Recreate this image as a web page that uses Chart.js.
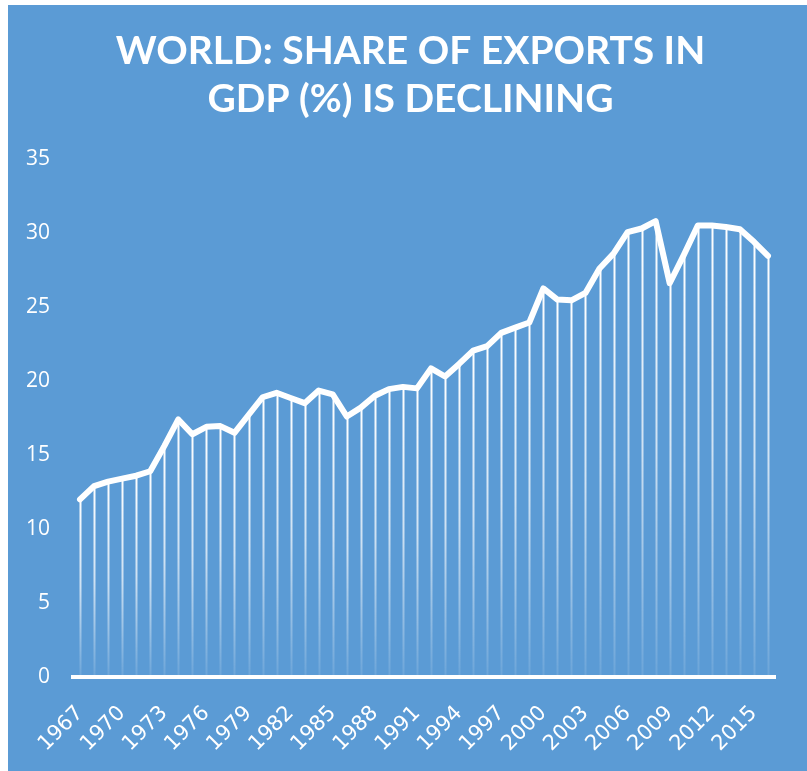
<!DOCTYPE html>
<html>
<head>
<meta charset="utf-8">
<script src="https://cdn.jsdelivr.net/npm/chart.js@4.4.0/dist/chart.umd.min.js"></script>
<style>
  html, body { margin: 0; padding: 0; background: #ffffff; }
  #wrap {
    position: absolute;
    left: 8px;
    top: 5px;
    width: 799px;
    height: 766px;
    background: #5b9bd5;
  }
</style>
</head>
<body>
<div id="wrap"><canvas id="exportsChart"></canvas></div>
<script>
// Exports of goods and services, % of world GDP
const years = [
  1967, 1968, 1969, 1970, 1971, 1972, 1973, 1974, 1975, 1976,
  1977, 1978, 1979, 1980, 1981, 1982, 1983, 1984, 1985, 1986,
  1987, 1988, 1989, 1990, 1991, 1992, 1993, 1994, 1995, 1996,
  1997, 1998, 1999, 2000, 2001, 2002, 2003, 2004, 2005, 2006,
  2007, 2008, 2009, 2010, 2011, 2012, 2013, 2014, 2015, 2016
];
const exportShare = [
  12.0, 12.9, 13.2, 13.4, 13.6, 13.9, 15.6, 17.4, 16.4, 16.9,
  16.95, 16.5, 17.7, 18.9, 19.2, 18.85, 18.5, 19.35, 19.1, 17.6,
  18.2, 19.0, 19.45, 19.6, 19.5, 20.85, 20.3, 21.15, 22.05, 22.35,
  23.25, 23.6, 23.95, 26.25, 25.5, 25.45, 25.95, 27.6, 28.6, 30.05,
  30.3, 30.8, 26.6, 28.5, 30.5, 30.5, 30.4, 30.25, 29.4, 28.45
];
const yTicks = [0, 5, 10, 15, 20, 25, 30, 35];
const titleLines = ['WORLD: SHARE OF EXPORTS IN', 'GDP (%) IS DECLINING'];

// vertical drop lines from every point down to the axis, fading out
const dropLines = {
  id: 'dropLines',
  beforeDatasetsDraw(chart) {
    const ctx = chart.ctx;
    const meta = chart.getDatasetMeta(0);
    const base = chart.scales.y.getPixelForValue(0);
    ctx.save();
    ctx.lineWidth = 2;
    meta.data.forEach(pt => {
      const g = ctx.createLinearGradient(0, pt.y, 0, base);
      g.addColorStop(0, 'rgba(255,255,255,1)');
      g.addColorStop(0.5, 'rgba(255,255,255,0.7)');
      g.addColorStop(1, 'rgba(255,255,255,0.1)');
      ctx.strokeStyle = g;
      ctx.beginPath();
      ctx.moveTo(Math.round(pt.x) + 0.5, pt.y);
      ctx.lineTo(Math.round(pt.x) + 0.5, base);
      ctx.stroke();
    });
    ctx.restore();
  }
};

new Chart(document.getElementById('exportsChart'), {
  type: 'line',
  data: {
    labels: years,
    datasets: [{
      data: exportShare,
      borderColor: '#ffffff',
      borderWidth: 6,
      borderJoinStyle: 'round',
      borderCapStyle: 'round',
      tension: 0,
      pointRadius: 0,
      fill: false
    }]
  },
  options: {
    responsive: true,
    maintainAspectRatio: false,
    animation: false,
    layout: { padding: { left: 16, right: 10, bottom: 0 } },
    plugins: {
      legend: { display: false },
      tooltip: { enabled: false },
      title: {
        display: true,
        text: titleLines,
        color: '#ffffff',
        font: { family: 'Lato', size: 39, weight: 'bold', lineHeight: 1.23 },
        padding: { top: 22, bottom: 36 }
      }
    },
    scales: {
      x: {
        offset: true,
        grid: { display: false, drawTicks: false },
        border: { display: true, color: '#ffffff', width: 4 },
        ticks: {
          color: '#ffffff',
          autoSkip: false,
          maxRotation: 45,
          minRotation: 45,
          padding: 24,
          font: { family: 'DejaVu Sans', size: 21 },
          callback: function(value, index) {
            return index % 3 === 0 ? String(years[index]) : '';
          }
        },
        // fixed plot edges: labels may hang past the left side, gap on the right
        afterFit: function(axis) {
          axis.paddingLeft = 0;
          axis.paddingRight = 32;
          axis.height = 94;
        }
      },
      y: {
        min: 0,
        max: 35,
        afterBuildTicks: function(axis) {
          axis.ticks = yTicks.map(v => ({ value: v }));
        },
        afterFit: function(axis) {
          axis.width = 49;
        },
        grid: { display: false, drawTicks: false },
        border: { display: false },
        ticks: {
          color: '#ffffff',
          padding: 23,
          font: { family: 'Open Sans', size: 21 }
        }
      }
    }
  },
  plugins: [dropLines]
});
</script>
</body>
</html>
